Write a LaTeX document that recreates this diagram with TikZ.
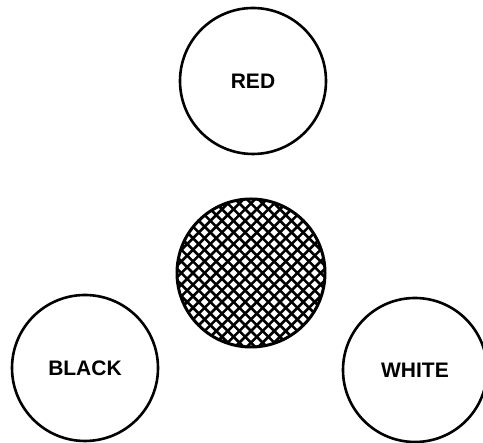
\documentclass[tikz,border=0pt]{standalone}
\usepackage{fontspec}
\setmainfont{Liberation Sans}
\usetikzlibrary{calc}
\begin{document}
\begin{tikzpicture}[x=1pt,y=1pt,
  ring/.style={circle,draw=black,line width=2.6pt,minimum size=146pt,inner sep=0pt,
    font=\fontsize{21}{21}\selectfont\bfseries},
  hatchline/.style={line width=2.6pt}]
\useasboundingbox (0,0) rectangle (483,443);
\node[ring] (red) at (253,362) {RED};
\node[ring] (black) at (85,75) {BLACK};
\node[ring,minimum size=144pt] (white) at (415,73) {WHITE};
\node[circle,minimum size=148pt,inner sep=0pt] (mix) at (251,170) {};
\begin{scope}
  \clip (mix.center) circle (74pt);
  \foreach \k in {-14,...,14}{
    \draw[hatchline] ($(mix.center)+(\k*11.6,0)+(-90,-90)$) -- ++(180,180);
    \draw[hatchline] ($(mix.center)+(\k*11.6,0)+(-90,90)$) -- ++(180,-180);
  }
\end{scope}
\draw[line width=3pt] (mix.center) circle (74pt);
\end{tikzpicture}
\end{document}
